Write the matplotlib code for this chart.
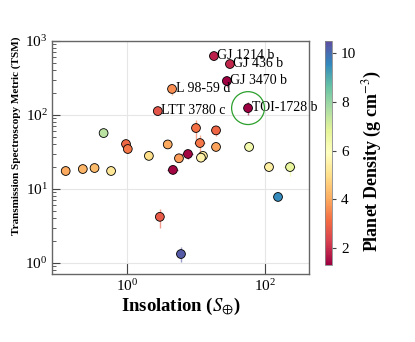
import matplotlib
matplotlib.use("Agg")
import matplotlib.pyplot as plt
import numpy as np

plt.rcParams['font.family'] = ['Liberation Serif', 'DejaVu Serif']
plt.rcParams['mathtext.fontset'] = 'stix'

# data
names = ["GJ 1214 b", "GJ 436 b", "GJ 3470 b", "L 98-59 d", "LTT 3780 c", "TOI-1728 b",
         "", "", "", "", "", "", "", "", "", "", "", "", "", "", "", "", "", "", "", "", "", "", "", ""]
insol = [18.2, 31, 28, 4.5, 2.8, 56.7,
         10, 19.5, 11.4, 3.9, 19.5, 58.7, 7.65, 12.6, 11.8, 5.67, 2.08, 4.64, 114, 230,
         154, 3.0, 6.06, 0.46, 0.97, 1.03, 0.13, 0.23, 0.34, 0.59]
tsm = [627, 489, 288, 225, 113, 124,
       66.7, 62, 41.8, 40, 37, 37, 29.7, 28, 26.5, 26, 28, 18.1, 19.8, 19.8,
       7.8, 4.2, 1.32, 57, 40.5, 34.7, 17.5, 18.6, 19.2, 17.5]
density = [1.8, 1.9, 1.3, 3.6, 2.7, 1.3,
           3.2, 3.0, 3.3, 4.0, 3.9, 6.3, 1.4, 5.3, 5.5, 3.8, 5.0, 1.4, 5.4, 6.7,
           9.5, 2.8, 10.3, 7.5, 3.0, 3.3, 4.0, 4.2, 4.3, 5.2]
insol_err = [1.5, 0, 0, 0, 0, 0,
             0.6, 3, 2, 0, 0, 0, 1.5, 0, 0, 0, 0, 0.8, 0, 50,
             0, 0, 0, 0, 0, 0, 0, 0, 0, 0]
tsm_err = [70, 0, 50, 40, 0, 25,
           20, 10, 12, 0, 0, 0, 4, 3, 3, 3, 0, 2, 0, 5,
           0, 1.2, 0.3, 0, 5, 0, 2, 0, 0, 0]
highlight = "TOI-1728 b"

fig = plt.figure(figsize=(4.15, 3.42), dpi=100)
ax = fig.add_axes([0.125, 0.199, 0.62, 0.681])
cax = fig.add_axes([0.783, 0.225, 0.017, 0.655])

cmap = plt.get_cmap('Spectral')
norm = matplotlib.colors.Normalize(vmin=1.3, vmax=10.5)

for xi, yi, xe, ye, d in zip(insol, tsm, insol_err, tsm_err, density):
    if xe > 0 or ye > 0:
        ax.errorbar(xi, yi, xerr=xe if xe > 0 else None, yerr=ye if ye > 0 else None,
                    fmt='none', ecolor=cmap(norm(d)), alpha=0.6, elinewidth=1.0, zorder=2)

sc = ax.scatter(insol, tsm, c=density, cmap=cmap, norm=norm, s=40,
                edgecolors='black', linewidths=0.6, zorder=3)

for n, xi, yi in zip(names, insol, tsm):
    if n:
        t = ax.annotate(n, (xi, yi), xytext=(2.5, 0.5), textcoords='offset points',
                        fontsize=10, va='center', ha='left', zorder=4)
        t.set_clip_on(False)
    if n == highlight:
        ax.scatter([xi], [yi], s=560, facecolors='none', edgecolors='#2ca02c',
                   linewidths=0.9, zorder=4)

ax.set_xscale('log')
ax.set_yscale('log')
ax.set_xlim(0.082, 435)
ax.set_ylim(0.71, 1000)
ax.xaxis.set_major_locator(matplotlib.ticker.LogLocator(base=100, numticks=5))
ax.xaxis.set_minor_locator(matplotlib.ticker.NullLocator())
ax.yaxis.set_major_locator(matplotlib.ticker.LogLocator(base=10, numticks=10))
ax.yaxis.set_minor_locator(matplotlib.ticker.LogLocator(base=10, subs=np.arange(2, 10), numticks=10))
ax.xaxis.set_minor_formatter(matplotlib.ticker.NullFormatter())
ax.yaxis.set_minor_formatter(matplotlib.ticker.NullFormatter())

ax.grid(True, which='major', color='#e6e6e6', linewidth=0.8, zorder=0)
ax.set_axisbelow(True)
for sp in ax.spines.values():
    sp.set_color('#666666')
    sp.set_linewidth(1.0)
ax.tick_params(axis='both', which='major', direction='in', length=6, color='#444444',
               labelsize=11, pad=3)
ax.tick_params(axis='y', which='minor', direction='in', length=3, color='#444444')
ax.tick_params(axis='x', which='major', length=8)

ax.set_xlabel(r"Insolation ($S_{\oplus}$)", fontsize=13.5, fontweight='bold', labelpad=1)
fig.text(0.039, 0.602, "Transmission Spectroscopy Metric (TSM)", fontsize=8,
         fontweight='bold', rotation=90, ha='center', va='center')

cb = fig.colorbar(sc, cax=cax)
cb.set_ticks([2, 4, 6, 8, 10])
cb.ax.tick_params(labelsize=11, length=3, color='#444444')
cb.outline.set_edgecolor('#888888')
cb.outline.set_linewidth(0.6)
fig.text(0.897, 0.529, r"Planet Density (g cm$^{-3}$)", fontsize=13, fontweight='bold',
         rotation=90, ha='center', va='center')

fig.savefig("out.png", dpi=100)
